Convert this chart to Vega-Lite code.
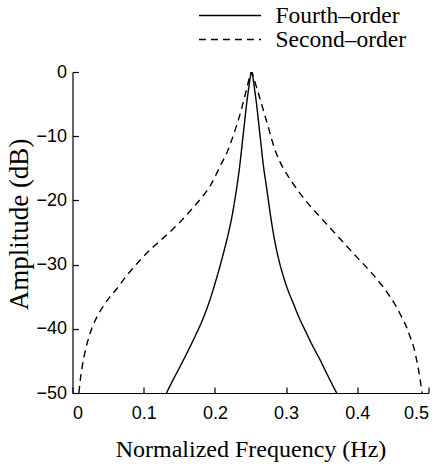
{
  "$schema": "https://vega.github.io/schema/vega-lite/v6.json",
  "width": 356,
  "height": 321,
  "autosize": {"type": "none"},
  "padding": {"left": 72.5, "top": 72, "right": 15.5, "bottom": 74},
  "background": "white",
  "data": {
    "values": [
      {"order": "Fourth–order", "f": 0.132, "db": -50},
      {"order": "Fourth–order", "f": 0.141, "db": -48},
      {"order": "Fourth–order", "f": 0.151, "db": -45.9},
      {"order": "Fourth–order", "f": 0.162, "db": -43.5},
      {"order": "Fourth–order", "f": 0.172, "db": -41.2},
      {"order": "Fourth–order", "f": 0.183, "db": -38.5},
      {"order": "Fourth–order", "f": 0.193, "db": -35.5},
      {"order": "Fourth–order", "f": 0.2, "db": -33.0},
      {"order": "Fourth–order", "f": 0.207, "db": -30.3},
      {"order": "Fourth–order", "f": 0.213, "db": -27.8},
      {"order": "Fourth–order", "f": 0.219, "db": -25.1},
      {"order": "Fourth–order", "f": 0.224, "db": -22.5},
      {"order": "Fourth–order", "f": 0.228, "db": -19.9},
      {"order": "Fourth–order", "f": 0.232, "db": -17.0},
      {"order": "Fourth–order", "f": 0.235, "db": -14.5},
      {"order": "Fourth–order", "f": 0.238, "db": -11.5},
      {"order": "Fourth–order", "f": 0.241, "db": -8.5},
      {"order": "Fourth–order", "f": 0.2445, "db": -5.0},
      {"order": "Fourth–order", "f": 0.2475, "db": -2.5},
      {"order": "Fourth–order", "f": 0.25, "db": -0.6},
      {"order": "Fourth–order", "f": 0.2515, "db": 0},
      {"order": "Fourth–order", "f": 0.253, "db": -0.6},
      {"order": "Fourth–order", "f": 0.2555, "db": -2.5},
      {"order": "Fourth–order", "f": 0.2585, "db": -5.0},
      {"order": "Fourth–order", "f": 0.262, "db": -8.5},
      {"order": "Fourth–order", "f": 0.265, "db": -11.5},
      {"order": "Fourth–order", "f": 0.268, "db": -14.5},
      {"order": "Fourth–order", "f": 0.2715, "db": -17.2},
      {"order": "Fourth–order", "f": 0.275, "db": -19.9},
      {"order": "Fourth–order", "f": 0.279, "db": -23.0},
      {"order": "Fourth–order", "f": 0.2835, "db": -26.0},
      {"order": "Fourth–order", "f": 0.289, "db": -28.9},
      {"order": "Fourth–order", "f": 0.295, "db": -31.4},
      {"order": "Fourth–order", "f": 0.302, "db": -33.8},
      {"order": "Fourth–order", "f": 0.31, "db": -36.0},
      {"order": "Fourth–order", "f": 0.318, "db": -38.2},
      {"order": "Fourth–order", "f": 0.3265, "db": -40.2},
      {"order": "Fourth–order", "f": 0.337, "db": -42.6},
      {"order": "Fourth–order", "f": 0.348, "db": -44.9},
      {"order": "Fourth–order", "f": 0.359, "db": -47.4},
      {"order": "Fourth–order", "f": 0.371, "db": -50},
      {"order": "Second–order", "f": 0.009, "db": -50},
      {"order": "Second–order", "f": 0.0105, "db": -48.4},
      {"order": "Second–order", "f": 0.0135, "db": -46.0},
      {"order": "Second–order", "f": 0.0176, "db": -43.6},
      {"order": "Second–order", "f": 0.023, "db": -41.3},
      {"order": "Second–order", "f": 0.029, "db": -39.4},
      {"order": "Second–order", "f": 0.036, "db": -37.8},
      {"order": "Second–order", "f": 0.043, "db": -36.5},
      {"order": "Second–order", "f": 0.052, "db": -35.1},
      {"order": "Second–order", "f": 0.062, "db": -33.8},
      {"order": "Second–order", "f": 0.072, "db": -32.3},
      {"order": "Second–order", "f": 0.083, "db": -30.8},
      {"order": "Second–order", "f": 0.096, "db": -29.2},
      {"order": "Second–order", "f": 0.109, "db": -27.7},
      {"order": "Second–order", "f": 0.123, "db": -26.3},
      {"order": "Second–order", "f": 0.137, "db": -24.9},
      {"order": "Second–order", "f": 0.149, "db": -23.6},
      {"order": "Second–order", "f": 0.16, "db": -22.3},
      {"order": "Second–order", "f": 0.172, "db": -20.8},
      {"order": "Second–order", "f": 0.184, "db": -19.2},
      {"order": "Second–order", "f": 0.194, "db": -17.6},
      {"order": "Second–order", "f": 0.2025, "db": -15.8},
      {"order": "Second–order", "f": 0.209, "db": -14.3},
      {"order": "Second–order", "f": 0.216, "db": -12.8},
      {"order": "Second–order", "f": 0.223, "db": -10.8},
      {"order": "Second–order", "f": 0.23, "db": -8.5},
      {"order": "Second–order", "f": 0.236, "db": -6.3},
      {"order": "Second–order", "f": 0.241, "db": -4.2},
      {"order": "Second–order", "f": 0.2455, "db": -2.2},
      {"order": "Second–order", "f": 0.249, "db": -0.7},
      {"order": "Second–order", "f": 0.2515, "db": 0},
      {"order": "Second–order", "f": 0.254, "db": -0.7},
      {"order": "Second–order", "f": 0.258, "db": -2.2},
      {"order": "Second–order", "f": 0.263, "db": -4.0},
      {"order": "Second–order", "f": 0.269, "db": -6.3},
      {"order": "Second–order", "f": 0.275, "db": -8.6},
      {"order": "Second–order", "f": 0.28, "db": -10.6},
      {"order": "Second–order", "f": 0.286, "db": -12.6},
      {"order": "Second–order", "f": 0.296, "db": -15.0},
      {"order": "Second–order", "f": 0.3075, "db": -17.0},
      {"order": "Second–order", "f": 0.3195, "db": -18.9},
      {"order": "Second–order", "f": 0.331, "db": -20.5},
      {"order": "Second–order", "f": 0.343, "db": -22.0},
      {"order": "Second–order", "f": 0.357, "db": -23.7},
      {"order": "Second–order", "f": 0.371, "db": -25.4},
      {"order": "Second–order", "f": 0.385, "db": -27.1},
      {"order": "Second–order", "f": 0.399, "db": -28.8},
      {"order": "Second–order", "f": 0.411, "db": -30.2},
      {"order": "Second–order", "f": 0.4225, "db": -31.6},
      {"order": "Second–order", "f": 0.435, "db": -33.3},
      {"order": "Second–order", "f": 0.446, "db": -35.0},
      {"order": "Second–order", "f": 0.455, "db": -36.6},
      {"order": "Second–order", "f": 0.462, "db": -38.1},
      {"order": "Second–order", "f": 0.469, "db": -39.7},
      {"order": "Second–order", "f": 0.474, "db": -41.2},
      {"order": "Second–order", "f": 0.4795, "db": -43.0},
      {"order": "Second–order", "f": 0.4834, "db": -44.9},
      {"order": "Second–order", "f": 0.4865, "db": -46.7},
      {"order": "Second–order", "f": 0.489, "db": -48.5},
      {"order": "Second–order", "f": 0.491, "db": -50}
    ]
  },
  "mark": {"type": "line", "color": "black", "strokeWidth": 1.4, "interpolate": "monotone", "clip": true},
  "encoding": {
    "x": {
      "field": "f",
      "type": "quantitative",
      "scale": {"domain": [0, 0.5], "nice": false, "zero": false},
      "axis": {
        "title": "Normalized Frequency (Hz)",
        "values": [0, 0.1, 0.2, 0.3, 0.4, 0.5],
        "format": ".1~f",
        "grid": false,
        "domainColor": "black",
        "domainWidth": 1.2,
        "tickColor": "black",
        "tickWidth": 1.2,
        "tickSize": -6,
        "labelPadding": 17,
        "labelColor": "black",
        "labelFont": "Liberation Sans",
        "labelFontSize": 18,
        "titleFont": "Liberation Serif",
        "titleFontSize": 24,
        "titleFontWeight": "normal",
        "titleColor": "black",
        "titleY": 44,
        "titleBaseline": "top"
      }
    },
    "y": {
      "field": "db",
      "type": "quantitative",
      "scale": {"domain": [-50, 0], "nice": false},
      "axis": {
        "title": "Amplitude (dB)",
        "values": [0, -10, -20, -30, -40, -50],
        "format": "d",
        "grid": false,
        "domainColor": "black",
        "domainWidth": 1.2,
        "tickColor": "black",
        "tickWidth": 1.2,
        "tickSize": -6,
        "labelPadding": 12,
        "labelColor": "black",
        "labelFont": "Liberation Sans",
        "labelFontSize": 18,
        "titleFont": "Liberation Serif",
        "titleFontSize": 27,
        "titleFontWeight": "normal",
        "titleColor": "black",
        "titleAngle": -90,
        "titleX": -45,
        "titleY": 152,
        "titleAlign": "center",
        "titleBaseline": "alphabetic"
      }
    },
    "strokeDash": {
      "field": "order",
      "type": "nominal",
      "scale": {"domain": ["Fourth–order", "Second–order"], "range": [[1, 0], [7, 5]]},
      "legend": {
        "orient": "none",
        "legendX": 145,
        "legendY": -69,
        "title": null,
        "padding": 0,
        "symbolType": "M-2.7,0H2.7",
        "symbolSize": 529,
        "symbolStrokeColor": "black",
        "symbolFillColor": "transparent",
        "symbolStrokeWidth": 1.4,
        "labelFont": "Liberation Serif",
        "labelFontSize": 23.5,
        "labelColor": "black",
        "labelOffset": 33,
        "rowPadding": -2
      }
    }
  },
  "config": {
    "view": {"stroke": null},
    "axis": {"titleFont": "Liberation Serif", "titleFontWeight": "normal"},
    "style": {"guide-title": {"font": "Liberation Serif", "fontWeight": "normal"}}
  }
}
